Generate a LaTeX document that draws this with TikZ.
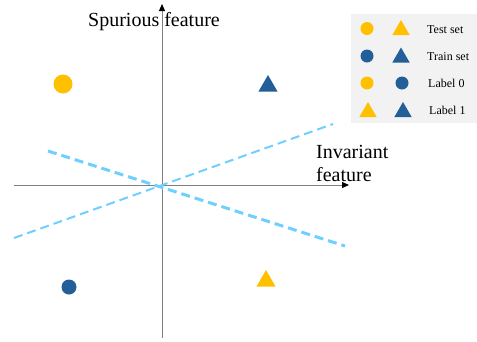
\documentclass[tikz,border=0pt]{standalone}
\usepackage{fontspec}
\setmainfont{Liberation Serif}
\usetikzlibrary{arrows.meta,shapes.geometric}
\definecolor{ylw}{HTML}{FFC000}
\definecolor{blu}{HTML}{225E98}
\definecolor{sep}{HTML}{6FCFFF}
\definecolor{axisgray}{HTML}{808080}
\definecolor{legbg}{HTML}{F2F2F2}
\tikzset{
  axisline/.style={draw=axisgray, line width=1pt, -{Triangle[length=7pt,width=6pt,fill=black,color=black]}},
  dot/.style={circle, inner sep=0pt, minimum size=#1},
  tri/.style={regular polygon, regular polygon sides=3, inner sep=0pt, minimum size=#1},
  sepline/.style={draw=sep, dash pattern=on 9pt off 5pt},
  bigtxt/.style={font=\fontsize{20}{23}\selectfont, inner sep=0pt},
  legtxt/.style={font=\fontsize{12}{14}\selectfont, inner sep=0pt, anchor=base west},
}
\begin{document}
\begin{tikzpicture}[x=1pt,y=-1pt]
\useasboundingbox (0,0) rectangle (477,341);
% legend background
\fill[legbg] (351,14) rectangle (477,123);
% axes
\coordinate (xs) at (14,185);
\coordinate (xe) at (349,185);
\coordinate (ys) at (162,338);
\coordinate (ye) at (162,4);
\draw[axisline] (xs) -- (xe);
\draw[axisline] (ys) -- (ye);
% separating lines
\coordinate (a1) at (14,238);
\coordinate (a2) at (333,124);
\coordinate (b1) at (48,151);
\coordinate (b2) at (345,246);
\draw[sepline, line width=2pt] (a1) -- (a2);
\draw[sepline, line width=3pt] (b1) -- (b2);
% axis labels
\node[bigtxt, anchor=base] (ylab) at (154,26) {Spurious feature};
\node[bigtxt, anchor=base west, align=left] (xlab) at (316,181) {Invariant\\feature};
% data points
\node[dot=19pt, fill=ylw] (p1) at (63,84) {};
\node[tri=22pt, fill=blu] (p2) at (268,86) {};
\node[dot=15pt, fill=blu] (p3) at (69,287) {};
\node[tri=22pt, fill=ylw] (p4) at (266,281) {};
% legend
\node[dot=13pt, fill=ylw] (l1a) at (367,28.5) {};
\node[tri=20pt, fill=ylw] (l1b) at (401,30) {};
\node[legtxt] (l1t) at (427,33) {Test set};
\node[dot=13pt, fill=blu] (l2a) at (367,56) {};
\node[tri=20pt, fill=blu] (l2b) at (401,57.5) {};
\node[legtxt] (l2t) at (427,60.5) {Train set};
\node[dot=13pt, fill=ylw] (l3a) at (367,83) {};
\node[dot=13pt, fill=blu] (l3b) at (402,83) {};
\node[legtxt] (l3t) at (428,87.5) {Label 0};
\node[tri=20pt, fill=ylw] (l4a) at (368,112) {};
\node[tri=20pt, fill=blu] (l4b) at (403,112) {};
\node[legtxt] (l4t) at (429,114.5) {Label 1};
\end{tikzpicture}
\end{document}
